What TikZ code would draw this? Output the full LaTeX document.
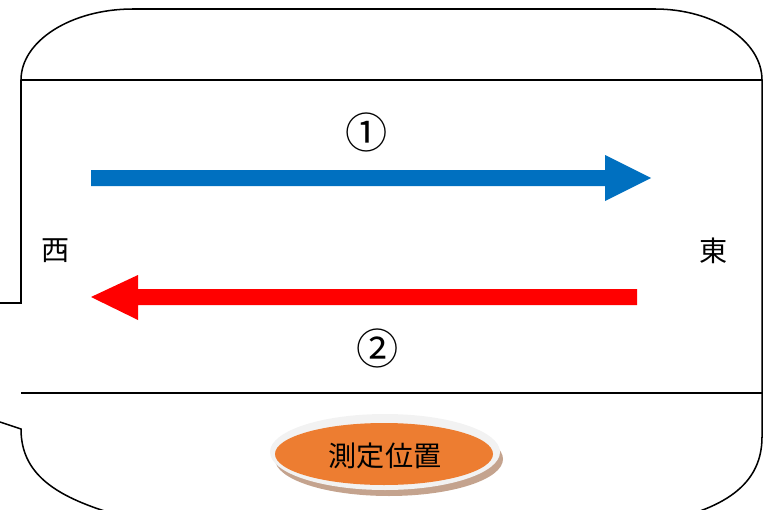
\documentclass[tikz,border=0pt]{standalone}
\usepackage{fontspec}
\setmainfont{Noto Sans CJK JP}
\newfontfamily\jpfont{Noto Sans CJK JP}
\definecolor{flowblue}{HTML}{0070C0}
\definecolor{flowred}{HTML}{FF0000}
\definecolor{spotorange}{HTML}{ED7D31}
\definecolor{spotrim}{HTML}{F2F2F2}
\definecolor{spotshadow}{HTML}{C4A38E}

\def\roadlabel#1#2#3{ % #1 Name, #2 Position, #3 Text
    \node (#1) [anchor=center, font=\jpfont\fontsize{24}{26}\selectfont] at (#2) {#3};
}

\begin{document}
\begin{tikzpicture}[x=0.03cm, y=-0.03cm]
        \useasboundingbox (0,0) rectangle (763,510);
        \begin{scope}
        \clip (0,0) rectangle (763,510);

        % outline
        \draw[line width=1.3] (0,303) -- (21,303) -- (21,80)
            .. controls (21,41) and (71,9) .. (133,9) -- (655,9)
            .. controls (714,9) and (762,41) .. (762,80) -- (762,437)
            .. controls (762,490) and (715,512) .. (650,524); %aussen oben
        \draw[line width=1.3] (0,422) -- (21,429)
            .. controls (21,478) and (62,500) .. (128,518); %aussen unten

        \draw[line width=2.5] (21,80) -- (762,80); %rand oben
        \draw[line width=2.5] (21,393) -- (762,393); %rand unten
        \end{scope}

        % 1
        \fill[flowblue] (91,170) -- (605,170) -- (605,155) -- (651,178)
            -- (605,201) -- (605,186) -- (91,186) -- cycle;
        \node (one) [anchor=center, font=\jpfont\fontsize{36}{38}\selectfont] at (367,132) {①};

        % 2
        \fill[flowred] (637,289) -- (138,289) -- (138,275) -- (91,297)
            -- (138,320) -- (138,305) -- (637,305) -- cycle;
        \node (two) [anchor=center, font=\jpfont\fontsize{36}{38}\selectfont] at (378,348) {②};

        % west / east
        \roadlabel{west}{56,251}{西}
        \roadlabel{east}{714,251}{東}

        % spot
        \fill[spotshadow] (389,459) ellipse [x radius=114, y radius=37];
        \fill[spotrim] (385,452) ellipse [x radius=115, y radius=38];
        \fill[spotorange] (384,454) ellipse [x radius=109, y radius=31];
        \roadlabel{spot}{385,456}{測定位置}
    \end{tikzpicture}
\end{document}
